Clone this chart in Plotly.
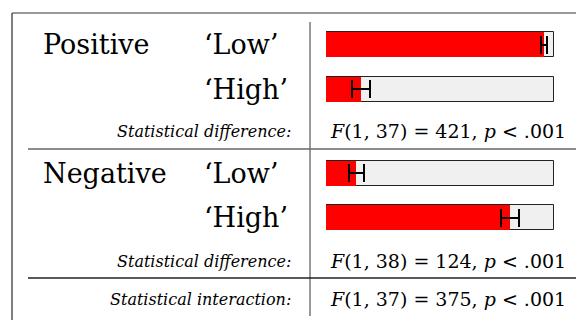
import plotly.graph_objects as go

# ---- data ----
groups = ["Positive", "Negative"]
levels = ["‘Low’", "‘High’"]
means = [0.956, 0.152, 0.132, 0.807]      # Positive-Low, Positive-High, Negative-Low, Negative-High
errors = [0.013, 0.040, 0.033, 0.040]
track_max = [1.0, 1.0, 1.0, 1.0]
diff_label = "Statistical difference:"
interaction_label = "Statistical interaction:"
diff_stats = ["<i>F</i>(1, 37) = 421, <i>p</i> &lt; .001",
              "<i>F</i>(1, 38) = 124, <i>p</i> &lt; .001"]
interaction_stat = "<i>F</i>(1, 37) = 375, <i>p</i> &lt; .001"

# ---- layout constants (pixels) ----
W, H = 576, 320
bar_rows = [44.5, 89, 173, 217.5]
stat_rows = [131, 261]
inter_row = 299
group_rows = [bar_rows[0], bar_rows[2]]
SERIF = "DejaVu Serif"

def px(x):
    return x / W

fig = go.Figure()
fig.add_trace(go.Bar(
    x=track_max, y=bar_rows, orientation="h", width=25,
    marker=dict(color="#f0f0f0", line=dict(color="#222222", width=1)),
    hoverinfo="skip", showlegend=False))
fig.add_trace(go.Bar(
    x=means, y=bar_rows, orientation="h", width=25,
    marker=dict(color="#ff0000", line=dict(width=0)),
    error_x=dict(type="data", array=errors, color="#000000", thickness=2, width=9),
    showlegend=False))

shapes = []
def line(x0, y0, x1, y1, color, w=1.5):
    shapes.append(dict(type="line", xref="paper", yref="y",
                       x0=px(x0), x1=px(x1), y0=y0, y1=y1,
                       line=dict(color=color, width=w)))
line(12, 13, 576, 13, "#777777")
line(12, 13, 12, 320, "#555555")
line(310, 22, 310, 316, "#777777")
line(28, 149, 576, 149, "#666666")
line(28, 278, 576, 278, "#222222")

ann = []
def text(x, y, s, anchor, size, style="normal"):
    ann.append(dict(xref="paper", yref="y", x=px(x), y=y, text=s,
                    xanchor=anchor, yanchor="middle", showarrow=False,
                    font=dict(family=SERIF, size=size, color="#000000", style=style)))

for g, gy in zip(groups, group_rows):
    text(41, gy, g, "left", 27)
for i, by in enumerate(bar_rows):
    text(202, by, levels[i % 2], "left", 27)
for sy, st in zip(stat_rows, diff_stats):
    text(293, sy, diff_label, "right", 16, "italic")
    text(328, sy, st, "left", 19)
text(293, inter_row, interaction_label, "right", 16, "italic")
text(328, inter_row, interaction_stat, "left", 19)

fig.update_layout(
    width=W, height=H, margin=dict(l=0, r=0, t=0, b=0),
    paper_bgcolor="white", plot_bgcolor="white",
    barmode="overlay", bargap=0,
    xaxis=dict(domain=[px(326), px(554)], range=[0, 1], visible=False, fixedrange=True),
    yaxis=dict(domain=[0, 1], range=[H, 0], visible=False, fixedrange=True),
    shapes=shapes, annotations=ann,
)
fig.write_html("out.html", config={"displayModeBar": False},
               post_script="document.body.style.margin='0';document.body.style.overflow='hidden';")
